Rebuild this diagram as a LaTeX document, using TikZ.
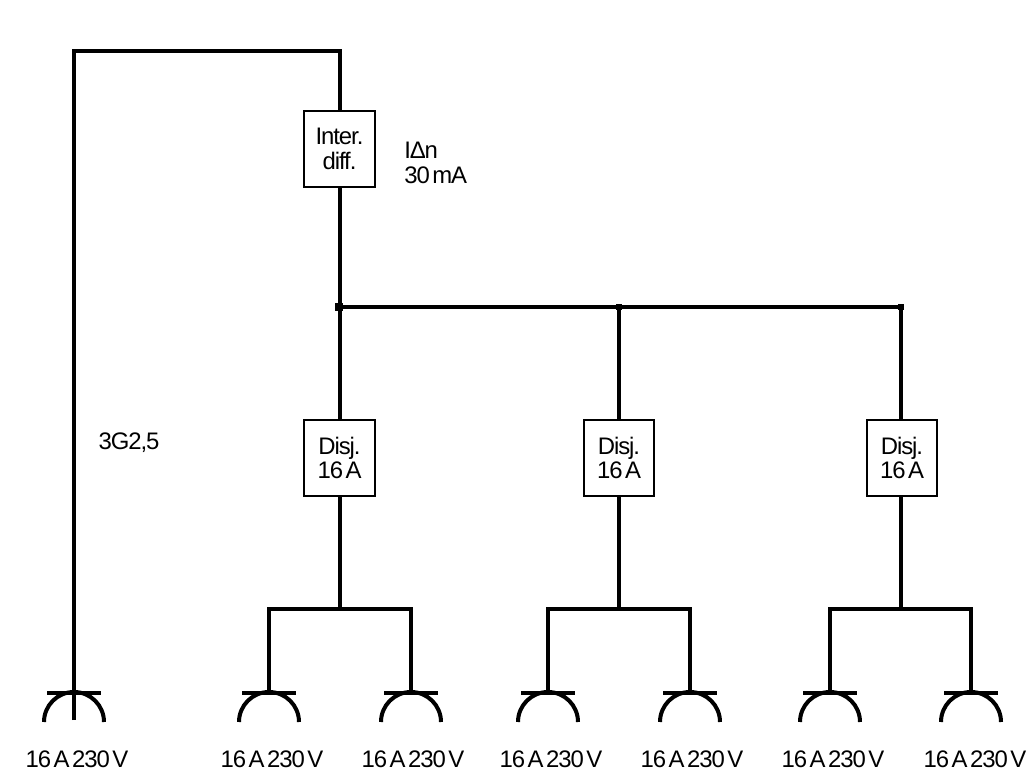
\documentclass[tikz,border=0pt]{standalone}
\usepackage{fontspec}
\setmainfont{Liberation Sans}[LetterSpace=-4.5,WordSpace=0.45]
\usetikzlibrary{calc}
\tikzset{
	wire/.style={line width=1mm},
	devicebox/.style={draw, line width=0.5mm, fill=white, minimum width=1.75cm, minimum height=1.9cm, inner sep=0pt, align=center, font=\fontsize{17pt}{17.7pt}\selectfont},
	junction/.style={fill=black, inner sep=0pt, minimum size=0.17cm},
	rating/.style={inner sep=0pt, align=left, font=\fontsize{17pt}{17.7pt}\selectfont}
}
% one socket: name, x of the stem, x of the label
\def\socket(#1)(#2)(#3){
	\coordinate (#1) at (#2, 693);
	\draw[wire] ($(#1)+(-27,0)$) -- ($(#1)+(27,0)$);
	\draw[wire] ($(#2,722)+(-30,0)$) arc (180:360:30);
	\node[rating] (#1label) at (#3, 759) {16 A 230 V};
}
\begin{document}
\begin{tikzpicture}[x=0.025cm, y=-0.025cm]
			%%%%% START %%%%%
			\useasboundingbox (0, 0) rectangle (1027, 776);
			
			\node[devicebox] (inter) at (339.5, 149) {Inter.\\diff.};
			\node[rating, anchor=west] (idelta) at (404, 163) {IΔn\\30 mA};
			\node[rating] (cable) at (129, 443) {3G2,5};
			
			\node[devicebox] (disj1) at (339.5, 458) {Disj.\\16 A};
			\node[devicebox] (disj2) at (619, 458) {Disj.\\16 A};
			\node[devicebox] (disj3) at (902, 458) {Disj.\\16 A};
			
			\node[junction, minimum size=0.22cm] (bus1) at (339, 307) {};
			\node[junction] (bus2) at (619, 307) {};
			\node[junction] (bus3) at (901, 307) {};
			
			\socket(sock0)(74)(77)
			\socket(sock1)(269)(272)
			\socket(sock2)(411)(413)
			\socket(sock3)(548)(551)
			\socket(sock4)(690)(692)
			\socket(sock5)(830)(833)
			\socket(sock6)(971)(975)
			
			% supply
			\coordinate (corner1) at (74, 51);
			\coordinate (corner2) at (339.5, 51);
			\coordinate (stem0) at (74, 720);
			\draw[wire] (stem0) -- (corner1) -- (corner2) -- (inter.north);
			\draw[wire] (inter.south) -- (disj1.north);
			\draw[wire] (bus1.center) -- (bus2.center) -- (bus3.center);
			\draw[wire] (bus2.center) -- (disj2.north);
			\draw[wire] (bus3.center) -- (bus3 |- disj3.north);
			
			% branches
			\draw[wire] (disj1.south) -- ++(0, 112);
			\draw[wire] (disj2.south) -- ++(0, 112);
			\draw[wire] (bus3 |- disj3.south) -- ++(0, 112);
			\draw[wire] (sock1) -- (269, 609) -- (411, 609) -- (sock2);
			\draw[wire] (sock3) -- (548, 609) -- (690, 609) -- (sock4);
			\draw[wire] (sock5) -- (830, 609) -- (971, 609) -- (sock6);
			
			%%%%% END %%%%%
		\end{tikzpicture}
\end{document}
